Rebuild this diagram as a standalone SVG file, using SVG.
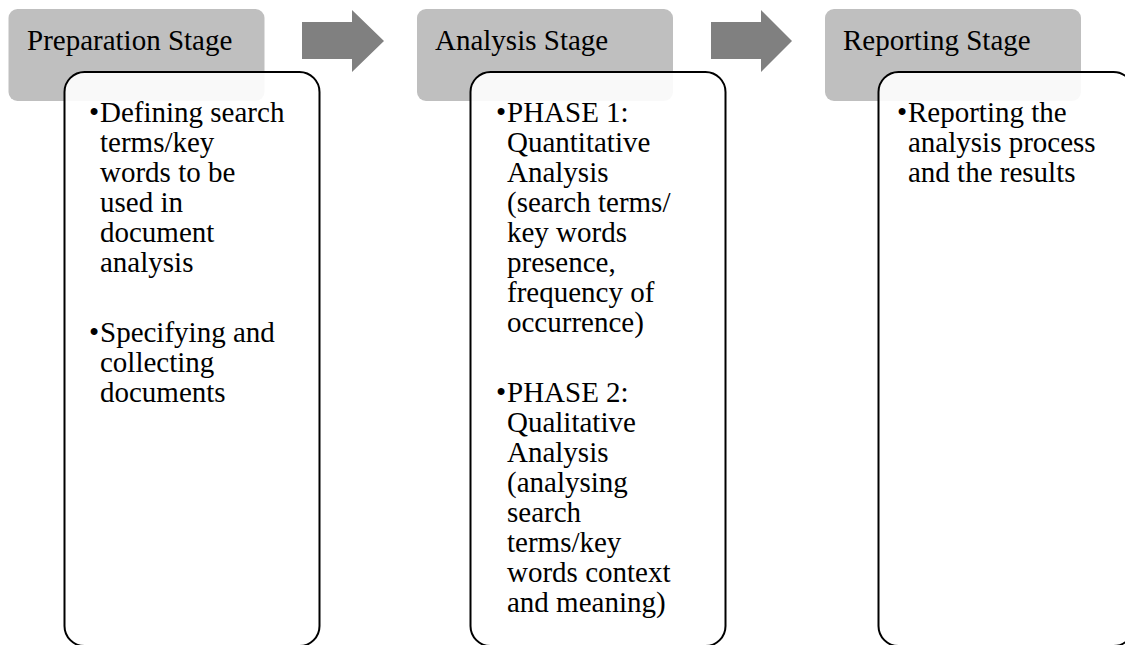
<svg xmlns="http://www.w3.org/2000/svg" width="1125" height="645" viewBox="0 0 1125 645">
<style>
.hdr{fill:#BFBFBF}
.card{fill:#FFFFFF;fill-opacity:0.9;stroke:#000000;stroke-width:2}
.arrow{fill:#808080}
text{font-family:"Liberation Serif","Times New Roman",serif;font-size:29px;fill:#000000}
</style>
<rect width="1125" height="645" fill="#FFFFFF"/>
<g id="connectors">
<path class="arrow" d="M302,22 H352 V10 L384,41 L352,72 V59 H302 Z"/>
<path class="arrow" d="M711,22 H761 V10 L792,41 L761,72 V59 H711 Z"/>
</g>
<g id="stage1">
<rect class="hdr" x="8.5" y="9" width="256" height="92" rx="9"/>
<text x="27" y="50">Preparation Stage</text>
<rect class="card" x="64.5" y="72" width="255" height="574" rx="20"/>
<text x="100" y="122"><tspan x="89">•</tspan><tspan x="100">Defining search</tspan></text>
<text x="100" y="152">terms/key</text>
<text x="100" y="182">words to be</text>
<text x="100" y="212">used in</text>
<text x="100" y="242">document</text>
<text x="100" y="272">analysis</text>
<text x="100" y="342"><tspan x="89">•</tspan><tspan x="100">Specifying and</tspan></text>
<text x="100" y="372">collecting</text>
<text x="100" y="402">documents</text>
</g>
<g id="stage2">
<rect class="hdr" x="417" y="9" width="256" height="92" rx="9"/>
<text x="435" y="50">Analysis Stage</text>
<rect class="card" x="470.5" y="72" width="255" height="574" rx="20"/>
<text x="507" y="122"><tspan x="496">•</tspan><tspan x="507">PHASE 1:</tspan></text>
<text x="507" y="152">Quantitative</text>
<text x="507" y="182">Analysis</text>
<text x="507" y="212">(search terms/</text>
<text x="507" y="242">key words</text>
<text x="507" y="272">presence,</text>
<text x="507" y="302">frequency of</text>
<text x="507" y="332">occurrence)</text>
<text x="507" y="402"><tspan x="496">•</tspan><tspan x="507">PHASE 2:</tspan></text>
<text x="507" y="432">Qualitative</text>
<text x="507" y="462">Analysis</text>
<text x="507" y="492">(analysing</text>
<text x="507" y="522">search</text>
<text x="507" y="552">terms/key</text>
<text x="507" y="582">words context</text>
<text x="507" y="612">and meaning)</text>
</g>
<g id="stage3">
<rect class="hdr" x="825" y="9" width="256" height="92" rx="9"/>
<text x="843" y="50">Reporting Stage</text>
<rect class="card" x="878.5" y="72" width="255" height="574" rx="20"/>
<text x="908" y="122"><tspan x="897">•</tspan><tspan x="908">Reporting the</tspan></text>
<text x="908" y="152">analysis process</text>
<text x="908" y="182">and the results</text>
</g>
</svg>
